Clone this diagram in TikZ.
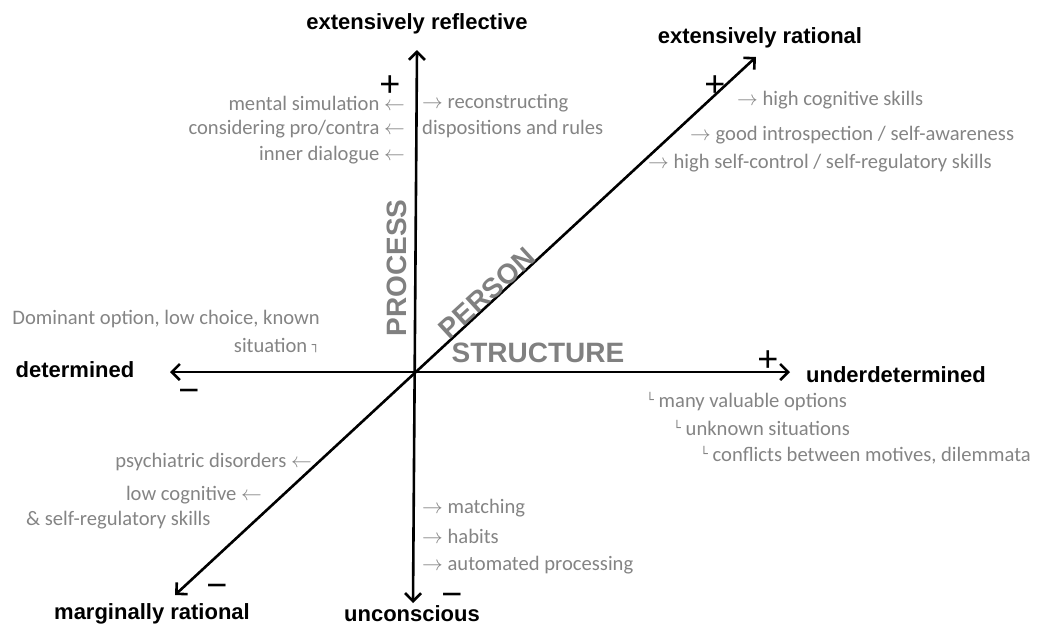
\documentclass[tikz,border=0pt]{standalone}
\usepackage{fontspec}
\setmainfont{Carlito}
\newfontfamily\arialfont{Liberation Sans}
\newfontfamily\symfont{DejaVu Sans}
\usetikzlibrary{arrows.meta}

\definecolor{notegray}{RGB}{132,132,132}
\definecolor{dimgray}{RGB}{128,128,128}

\newcommand{\lar}{$\leftarrow$}
\newcommand{\rar}{$\rightarrow$}
\newcommand{\corner}[1]{{\symfont\fontsize{13}{13}\selectfont\raisebox{3pt}{#1}}}

\tikzset{
	axis/.style={line width=2.6pt, {Straight Barb[length=8pt,width=16pt,line width=2.6pt]}-{Straight Barb[length=8pt,width=16pt,line width=2.6pt]}},
	pole/.style={font=\arialfont\bfseries\fontsize{22}{26}\selectfont, inner sep=0pt},
	note/.style={font=\fontsize{20.6}{24}\selectfont, text=notegray, inner sep=0pt},
	dimension/.style={font=\arialfont\bfseries\fontsize{28}{32}\selectfont, text=dimgray, inner sep=0pt},
	sign/.style={font=\arialfont\fontsize{36}{36}\selectfont, inner sep=0pt}
}

\begin{document}
\begin{tikzpicture}[x=1pt,y=-1pt]
	\useasboundingbox (0,0) rectangle (1037,630);

	% axis ends
	\coordinate (O) at (415,372);
	\coordinate (top) at (417,50);
	\coordinate (bottom) at (413,603);
	\coordinate (left) at (170,372);
	\coordinate (right) at (790,372);
	\coordinate (lowleft) at (175,595);
	\coordinate (upright) at (756,57);

	\draw[axis] (bottom) -- (top);
	\draw[axis] (left) -- (right);
	\draw[axis] (lowleft) -- (upright);

	% poles
	\node[pole] (reflective) at (417,24) {extensively reflective};
	\node[pole] (rational) at (760,38) {extensively rational};
	\node[pole] (determined) at (75,370) {determined};
	\node[pole] (underdetermined) at (896,375) {underdetermined};
	\node[pole] (marginal) at (152,614) {marginally rational};
	\node[pole] (unconscious) at (412,614) {unconscious};

	% signs
	\node[sign] (plustop) at (390,86) {+};
	\node[sign] (plusdiag) at (715,86) {+};
	\node[sign] (plusright) at (768,361) {+};
	\node[sign] (minusleft) at (189,396) {−};
	\node[sign] (minusdiag) at (217,591) {−};
	\node[sign] (minusbottom) at (452,600) {−};

	% dimensions
	\node[dimension, rotate=90] (process) at (397,268) {PROCESS};
	\node[dimension, rotate=42.5] (person) at (487,293) {PERSON};
	\node[dimension] (structure) at (538,353) {STRUCTURE};

	% process, top
	\node[note, anchor=east] (simulation) at (405,103) {mental simulation \lar};
	\node[note, anchor=east] (procontra) at (405,129) {considering pro/contra \lar};
	\node[note, anchor=east] (dialogue) at (405,155) {inner dialogue \lar};
	\node[note, anchor=west] (reconstr) at (422,103) {\rar{} reconstructing};
	\node[note, anchor=west] (dispositions) at (422,129) {dispositions and rules};

	% process, bottom
	\node[note, anchor=west] (matching) at (422,508) {\rar{} matching};
	\node[note, anchor=west] (habits) at (422,536) {\rar{} habits};
	\node[note, anchor=west] (automated) at (422,565) {\rar{} automated processing};

	% person
	\node[note, anchor=west] (cognitive) at (737,100) {\rar{} high cognitive skills};
	\node[note, anchor=west] (introspection) at (690,135) {\rar{} good introspection / self-awareness};
	\node[note, anchor=west] (selfcontrol) at (648,163) {\rar{} high self-control / self-regulatory skills};
	\node[note, anchor=east] (disorders) at (312,462) {psychiatric disorders \lar};
	\node[note, anchor=east] (lowcog) at (262,495) {low cognitive \lar};
	\node[note, anchor=west] (lowself) at (26,520) {\& self-regulatory skills};

	% structure
	\node[note, anchor=east] (dominant) at (320,319) {Dominant option, low choice, known};
	\node[note, anchor=east] (situation) at (320,345) {situation \corner{┐}};
	\node[note, anchor=west] (valuable) at (646,402) {\corner{└} many valuable options};
	\node[note, anchor=west] (unknown) at (673,428) {\corner{└} unknown situations};
	\node[note, anchor=west] (conflicts) at (700,455) {\corner{└} conflicts between motives, dilemmata};
\end{tikzpicture}
\end{document}
